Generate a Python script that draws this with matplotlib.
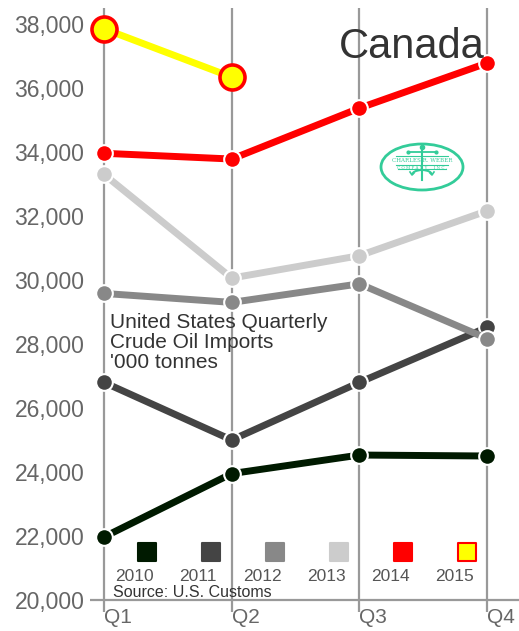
import numpy as np
import matplotlib
matplotlib.use("Agg")
import matplotlib.pyplot as plt
from matplotlib.patches import Ellipse, Arc

plt.rcParams['font.family'] = ['Liberation Sans', 'DejaVu Sans']

quarters = ["Q1", "Q2", "Q3", "Q4"]
years = ["2010", "2011", "2012", "2013", "2014", "2015"]
v2010 = [21970, 23950, 24530, 24500]
v2011 = [26800, 25000, 26800, 28520]
v2012 = [29580, 29300, 29880, 28170]
v2013 = [33300, 30060, 30760, 32160]
v2014 = [33960, 33780, 35370, 36780]
v2015 = [37850, 36340]
series = [v2010, v2011, v2012, v2013, v2014, v2015]
colors = ["#001a00", "#444444", "#888888", "#cccccc", "#ff0000", "#ffff00"]
yticks = [20000, 22000, 24000, 26000, 28000, 30000, 32000, 34000, 36000, 38000]

W, H = 519, 631
fig = plt.figure(figsize=(W / 100, H / 100), dpi=100)
ax = fig.add_axes([90 / W, 19 / H, 1 - 90 / W, (612 - 8) / H])
ax.set_xlim(-0.11, 3.25)
ax.set_ylim(19625, 38500)
for s in ax.spines.values():
    s.set_visible(False)

ax.set_xticks(range(4))
ax.set_xticklabels(quarters, ha="left", fontsize=15, color="#666666")
ax.set_yticks(yticks)
ax.set_yticklabels([f"{v:,}" for v in yticks], fontsize=16.5, color="#666666")
ax.tick_params(length=0)
ax.tick_params(axis="y", pad=4)
ax.tick_params(axis="x", pad=-3)
ax.grid(axis="x", color="#999999", linewidth=1.6)
ax.axhline(20000, color="#999999", linewidth=1.6, zorder=1)

x = np.arange(4)
for i, (vals, c) in enumerate(zip(series, colors)):
    xs = x[:len(vals)]
    if years[i] == "2015":
        ax.plot(xs, vals, color=c, linewidth=5, zorder=3 + i,
                marker="o", markersize=18, markerfacecolor=c,
                markeredgecolor="#ff0000", markeredgewidth=2.6)
    else:
        ax.plot(xs, vals, color=c, linewidth=5, zorder=3 + i,
                marker="o", markersize=12, markerfacecolor=c,
                markeredgecolor="white", markeredgewidth=1.5)

# legend: squares with year below
for i, (yr, c) in enumerate(zip(years, colors)):
    cx = (147 + 64 * i) / W
    ec = "#ff0000" if yr == "2015" else c
    ax.scatter([cx], [1 - 552 / H], marker="s", s=185, color=c,
               edgecolors=ec, linewidths=1.5,
               transform=fig.transFigure, clip_on=False, zorder=20)
    fig.text((134 + 64 * i) / W, 1 - 581 / H, yr, fontsize=12.5,
             color="#555555", ha="center", va="baseline")

fig.text(113 / W, 1 - 597 / H, "Source: U.S. Customs", fontsize=11.5,
         color="#333333", ha="left", va="baseline")
fig.text(485 / W, 1 - 58 / H, "Canada", fontsize=30, color="#333333",
         ha="right", va="baseline")
fig.text(110 / W, 1 - 313 / H,
         "United States Quarterly\nCrude Oil Imports\n'000 tonnes",
         fontsize=15, color="#333333", ha="left", va="top", linespacing=1.05)

# logo
g = "#33cc99"
lg = fig.add_axes([378 / W, 1 - 192 / H, 88 / W, 50 / H])
lg.set_xlim(0, 88)
lg.set_ylim(50, 0)
lg.axis("off")
lg.add_patch(Ellipse((44, 25), 82, 46, fill=False, edgecolor=g, linewidth=2))
lg.plot([44, 44], [5, 38], color=g, linewidth=1.5)
lg.plot([30, 58], [10, 10], color=g, linewidth=1.3)
lg.plot([44], [5], marker="o", color=g, markersize=3)
lg.plot([30, 58], [10, 10], "o", color=g, markersize=2)
lg.plot([18, 70], [14, 14], color=g, linewidth=0.8)
lg.plot([18, 70], [22.5, 22.5], color=g, linewidth=0.8)
lg.plot([20, 68], [27, 27], color=g, linewidth=0.8)
lg.text(44, 18.5, "CHARLES R. WEBER", fontsize=4, color=g, ha="center",
        va="center", family="DejaVu Serif")
lg.text(44, 25, "C O M P A N Y ,   I N C .", fontsize=3, color=g,
        ha="center", va="center", family="DejaVu Serif")
lg.add_patch(Arc((44, 33), 20, 10, theta1=180, theta2=360, edgecolor=g,
                 linewidth=1.5))
lg.plot([32, 34, 36], [30, 33, 31], color=g, linewidth=1.2)
lg.plot([52, 54, 56], [31, 33, 30], color=g, linewidth=1.2)

fig.savefig("out.png", dpi=100)
